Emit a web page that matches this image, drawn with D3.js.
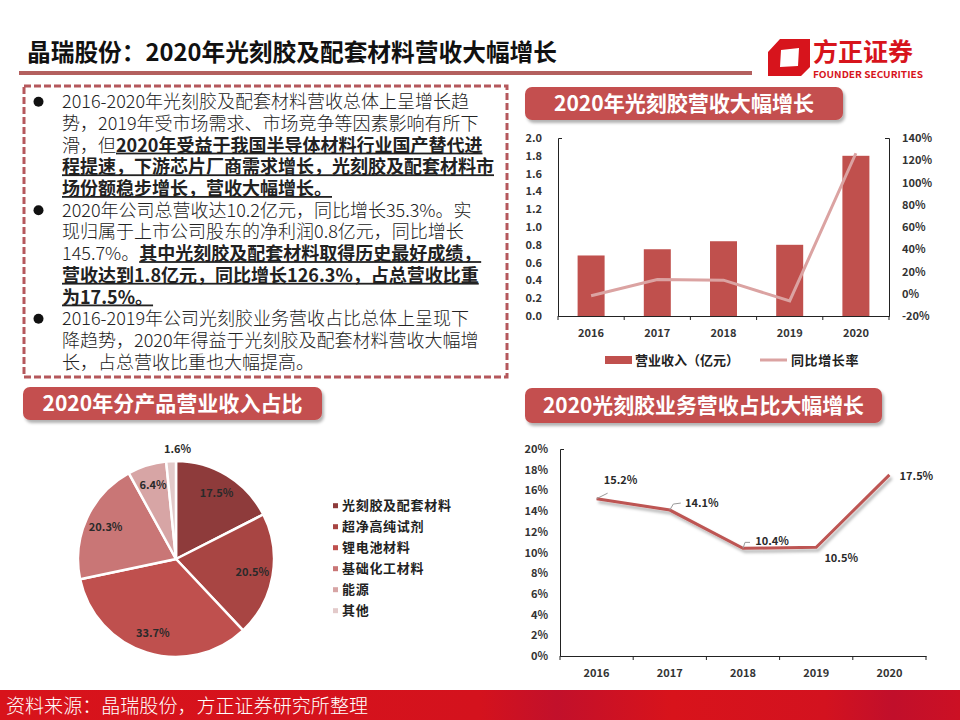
<!DOCTYPE html>
<meta charset="utf-8">
<script src="https://d3js.org/d3.v7.min.js"></script>
<style>
  body { margin: 0; background: #fff; }
  text { font-family: "Noto Sans CJK SC", "Microsoft YaHei", sans-serif; }
</style>
<div id="slide"></div>
<script>

// ---- data ----
const years = ["2016", "2017", "2018", "2019", "2020"];
const revenue = [0.68, 0.75, 0.84, 0.80, 1.80];          // 营业收入（亿元）
const revenueGrowth = [-1.8, 12.8, 12.2, -6.5, 126.3];   // 同比增长率 %
const revenueTicks = [0, 0.2, 0.4, 0.6, 0.8, 1.0, 1.2, 1.4, 1.6, 1.8, 2.0];
const growthTicks = [-20, 0, 20, 40, 60, 80, 100, 120, 140];

const productNames = ["光刻胶及配套材料", "超净高纯试剂", "锂电池材料", "基础化工材料", "能源", "其他"];
const productShares = [17.5, 20.5, 33.7, 20.3, 6.4, 1.6];

const photoresistShare = [15.2, 14.1, 10.4, 10.5, 17.5];  // % of total revenue
const shareTicks = [0, 2, 4, 6, 8, 10, 12, 14, 16, 18, 20];

// bullet text, one entry per printed line: [text, bold]
const bulletLines = [
  {bullet: true,  parts: [["2016-2020年光刻胶及配套材料营收总体上呈增长趋", false]]},
  {bullet: false, parts: [["势，2019年受市场需求、市场竞争等因素影响有所下", false]]},
  {bullet: false, parts: [["滑，但", false], ["2020年受益于我国半导体材料行业国产替代进", true]]},
  {bullet: false, parts: [["程提速，下游芯片厂商需求增长，光刻胶及配套材料市", true]]},
  {bullet: false, parts: [["场份额稳步增长，营收大幅增长。", true]]},
  {bullet: true,  parts: [["2020年公司总营收达10.2亿元，同比增长35.3%。实", false]]},
  {bullet: false, parts: [["现归属于上市公司股东的净利润0.8亿元，同比增长", false]]},
  {bullet: false, parts: [["145.7%。", false], ["其中光刻胶及配套材料取得历史最好成绩，", true]]},
  {bullet: false, parts: [["营收达到1.8亿元，同比增长126.3%，占总营收比重", true]]},
  {bullet: false, parts: [["为17.5%。", true]]},
  {bullet: true,  parts: [["2016-2019年公司光刻胶业务营收占比总体上呈现下", false]]},
  {bullet: false, parts: [["降趋势，2020年得益于光刻胶及配套材料营收大幅增", false]]},
  {bullet: false, parts: [["长，占总营收比重也大幅提高。", false]]}
];

// colours
const barColor = "#c0504d";
const growthColor = "#dba3a2";
const pieColors = ["#8e3b3b", "#a84543", "#bf504e", "#c97676", "#d7a5a5", "#e3caca"];
const boxRed = "#c4504f";
const axisText = "#333";

const svg = d3.select("#slide")
  .append("svg")
    .attr("width", 960)
    .attr("height", 720);

const defs = svg.append("defs");
defs.append("filter")
    .attr("id", "shadow")
    .attr("x", "-10%").attr("y", "-20%").attr("width", "130%").attr("height", "160%")
  .append("feDropShadow")
    .attr("dx", 2).attr("dy", 3).attr("stdDeviation", 1.5)
    .attr("flood-color", "#000").attr("flood-opacity", 0.3);

const footGrad = defs.append("linearGradient").attr("id", "footGrad");
[[0, "#d8131b"], [0.5, "#d4121d"], [0.58, "#c2102b"], [0.7, "#d8131b"], [0.86, "#d3121f"], [0.93, "#c10f2b"], [1, "#cc1024"]]
  .forEach(s => footGrad.append("stop").attr("offset", s[0]).attr("stop-color", s[1]));

// ---- header ----
svg.append("text")
    .attr("x", 27).attr("y", 61)
    .attr("textLength", 530).attr("lengthAdjust", "spacingAndGlyphs")
    .style("font-size", "24px").style("font-weight", "bold").style("fill", "#111")
    .text("晶瑞股份：2020年光刻胶及配套材料营收大幅增长");

svg.append("rect")
    .attr("x", 19).attr("y", 71).attr("width", 733).attr("height", 4)
    .attr("fill", "#b4605f");

// logo: a bevelled red frame
svg.append("path")
    .attr("d", "M768,52 L780,39 L810,39 L810,67 L801,76 L768,76 Z M781,50 L799,48 L798,66 L780,67 Z")
    .attr("fill-rule", "evenodd")
    .attr("fill", "#d7141c");
svg.append("text")
    .attr("x", 813).attr("y", 61)
    .attr("textLength", 100).attr("lengthAdjust", "spacingAndGlyphs")
    .style("font-size", "25px").style("font-weight", "bold").style("fill", "#d7141c")
    .text("方正证券");
svg.append("text")
    .attr("x", 813).attr("y", 78)
    .attr("textLength", 110).attr("lengthAdjust", "spacingAndGlyphs")
    .style("font-size", "9.5px").style("font-weight", "bold").style("fill", "#d7141c")
    .text("FOUNDER SECURITIES");

// ---- text box ----
svg.append("rect")
    .attr("x", 24).attr("y", 86).attr("width", 483).attr("height", 291)
    .attr("fill", "none")
    .attr("stroke", "#b5585c")
    .attr("stroke-width", 3)
    .attr("stroke-dasharray", "7,3");

const lineTop = 101.7, lineStep = 21.7;
bulletLines.forEach(function(line, i) {
  const cy = lineTop + i * lineStep;
  if (line.bullet) {
    svg.append("circle").attr("cx", 38.5).attr("cy", cy).attr("r", 5).attr("fill", "#111");
  }
  const t = svg.append("text")
      .attr("x", 62).attr("y", cy + 6.5)
      .style("font-size", "18px").style("fill", "#222");
  line.parts.forEach(function(p) {
    t.append("tspan")
      .style("font-weight", p[1] ? "bold" : "300")
      .style("text-decoration", p[1] ? "underline" : "none")
      .text(p[0]);
  });
});

// ---- section title boxes ----
function titleBox(x, y, w, h, label, textLen) {
  svg.append("rect")
      .attr("x", x).attr("y", y).attr("width", w).attr("height", h)
      .attr("rx", 7)
      .attr("fill", boxRed)
      .attr("filter", "url(#shadow)");
  svg.append("text")
      .attr("x", x + w / 2).attr("y", y + h / 2 + 7.5)
      .attr("text-anchor", "middle")
      .attr("textLength", textLen).attr("lengthAdjust", "spacingAndGlyphs")
      .style("font-size", "21px").style("font-weight", "bold").style("fill", "#fff")
      .text(label);
}
titleBox(525, 87, 318, 33, "2020年光刻胶营收大幅增长", 260);
titleBox(23, 387, 299, 33, "2020年分产品营业收入占比", 260);
titleBox(525, 388, 357, 35, "2020光刻胶业务营收占比大幅增长", 321);

// ---- bar + line chart (top right) ----
const bx = d3.scaleBand().domain(years).range([558, 889]);
const by = d3.scaleLinear().domain([0, 2]).range([316, 138]);
const byR = d3.scaleLinear().domain([-20, 140]).range([316, 138]);
const barW = 27;

svg.append("g")
  .selectAll("rect")
  .data(years)
  .join("rect")
    .attr("x", (d) => bx(d) + bx.bandwidth() / 2 - barW / 2)
    .attr("y", (d, i) => by(revenue[i]))
    .attr("width", barW)
    .attr("height", (d, i) => by(0) - by(revenue[i]))
    .attr("fill", barColor);

svg.append("path")
    .datum(revenueGrowth)
    .attr("d", d3.line()
      .x((d, i) => bx(years[i]) + bx.bandwidth() / 2)
      .y((d) => byR(d)))
    .attr("fill", "none")
    .attr("stroke", growthColor)
    .attr("stroke-width", 3);

function styleAxis(g, size) {
  g.selectAll("path, line").attr("stroke", "#222");
  g.selectAll("text")
    .style("font-size", size || "11px")
    .style("font-weight", "bold")
    .style("fill", axisText)
    .style("font-family", "'Noto Sans CJK SC', sans-serif");
}

svg.append("g")
    .attr("transform", "translate(558,0)")
    .call(d3.axisLeft(by).tickValues(revenueTicks).tickFormat(d3.format(".1f"))
      .tickSizeInner(0).tickSizeOuter(-4).tickPadding(16))
    .call(styleAxis);

svg.append("g")
    .attr("transform", "translate(889,0)")
    .call(d3.axisRight(byR).tickValues(growthTicks).tickFormat((d) => d + "%")
      .tickSizeInner(0).tickSizeOuter(-4).tickPadding(13))
    .call(styleAxis);

function bandAxis(scale, y) {
  const g = svg.append("g")
      .attr("transform", `translate(0,${y})`)
      .call(d3.axisBottom(scale).tickSize(0).tickPadding(13))
      .call(styleAxis);
  // ticks sit on the band boundaries
  g.selectAll("line.edge")
    .data(scale.domain().map((d) => scale(d)).concat([scale.range()[1]]))
    .join("line")
      .attr("class", "edge")
      .attr("x1", (d) => d).attr("x2", (d) => d)
      .attr("y1", 0).attr("y2", 4)
      .attr("stroke", "#222");
}
bandAxis(bx, 316);

// legend
svg.append("rect")
    .attr("x", 605).attr("y", 356).attr("width", 27).attr("height", 8)
    .attr("fill", barColor);
svg.append("text")
    .attr("x", 635).attr("y", 365)
    .style("font-size", "13px").style("font-weight", "bold").style("fill", "#222")
    .text("营业收入（亿元）");
svg.append("line")
    .attr("x1", 760).attr("x2", 787).attr("y1", 360).attr("y2", 360)
    .attr("stroke", growthColor).attr("stroke-width", 3);
svg.append("text")
    .attr("x", 791).attr("y", 365)
    .style("font-size", "13px").style("font-weight", "bold").style("fill", "#222")
    .style("letter-spacing", "0.6px")
    .text("同比增长率");

// ---- pie (bottom left) ----
const pieCx = 176, pieCy = 559, pieR = 98;
const pie = d3.pie().sort(null).value((d) => d);
const arcs = pie(productShares);
const arc = d3.arc().innerRadius(0).outerRadius(pieR);
const labelArc = d3.arc().innerRadius(pieR * 0.79).outerRadius(pieR * 0.79);
const outerLabelArc = d3.arc().innerRadius(pieR + 12).outerRadius(pieR + 12);

const pieG = svg.append("g").attr("transform", `translate(${pieCx},${pieCy})`);
pieG.selectAll("path")
  .data(arcs)
  .join("path")
    .attr("d", arc)
    .attr("fill", (d, i) => pieColors[i])
    .attr("stroke", "#fff")
    .attr("stroke-width", 2.5);

pieG.selectAll("text")
  .data(arcs)
  .join("text")
    .attr("transform", (d) => `translate(${(d.data < 2 ? outerLabelArc : labelArc).centroid(d)})`)
    .attr("dx", (d) => d.data < 2 ? 7 : 0)
    .attr("dy", "0.35em")
    .attr("text-anchor", "middle")
    .style("font-size", "11px").style("font-weight", "bold").style("fill", "#2a2a2a")
    .text((d) => d.data.toFixed(1) + "%");

const pieLegend = svg.append("g")
  .selectAll("g")
  .data(productNames)
  .join("g")
    .attr("transform", (d, i) => `translate(333,${505.7 + i * 21})`);
pieLegend.append("rect")
    .attr("x", 0).attr("y", -2.5).attr("width", 5).attr("height", 5)
    .attr("fill", (d, i) => pieColors[i]);
pieLegend.append("text")
    .attr("x", 9).attr("y", 4.5)
    .style("font-size", "13px").style("font-weight", "bold").style("fill", "#222")
    .style("letter-spacing", "0.7px")
    .text((d) => d);

// ---- share line chart (bottom right) ----
const lx = d3.scaleBand().domain(years).range([560, 926]);
const ly = d3.scaleLinear().domain([0, 20]).range([656, 449]);
const lxc = (i) => lx(years[i]) + lx.bandwidth() / 2;

svg.append("g")
    .attr("transform", "translate(560,0)")
    .call(d3.axisLeft(ly).tickValues(shareTicks).tickFormat((d) => d + "%")
      .tickSizeInner(0).tickSizeOuter(-4).tickPadding(12))
    .call(styleAxis);
bandAxis(lx, 656);

svg.append("path")
    .datum(photoresistShare)
    .attr("d", d3.line().x((d, i) => lxc(i)).y((d) => ly(d)))
    .attr("fill", "none")
    .attr("stroke", "#bd5553")
    .attr("stroke-width", 3)
    .attr("filter", "url(#shadow)");

// data labels: offset of label centre from the point, plus leader bend
const shareLabelOffset = [[24, -19], [32, -7], [29, -7], [25, 11], [27, 1]];
const leaderPath = [
  [[0, 0], [11, -5.5]],
  [[0, 0], [3.5, -6], [11, -7]],
  [[0, 0], [2, -6], [7, -6]],
  null,
  null
];
photoresistShare.forEach(function(v, i) {
  const px = lxc(i), py = ly(v);
  if (leaderPath[i]) {
    svg.append("path")
        .attr("d", d3.line()(leaderPath[i].map((p) => [px + p[0], py + p[1]])))
        .attr("fill", "none")
        .attr("stroke", "#999")
        .attr("stroke-width", 1);
  }
  svg.append("text")
      .attr("x", px + shareLabelOffset[i][0])
      .attr("y", py + shareLabelOffset[i][1])
      .attr("dy", "0.35em")
      .attr("text-anchor", "middle")
      .style("font-size", "11px").style("font-weight", "bold").style("fill", "#2a2a2a")
      .text(v.toFixed(1) + "%");
});

// ---- footer ----
svg.append("rect")
    .attr("x", 0).attr("y", 690).attr("width", 960).attr("height", 30)
    .attr("fill", "url(#footGrad)");
svg.append("text")
    .attr("x", 6).attr("y", 713)
    .attr("textLength", 362).attr("lengthAdjust", "spacingAndGlyphs")
    .style("font-size", "19px").style("font-weight", "300").style("fill", "#fff")
    .text("资料来源：晶瑞股份，方正证券研究所整理");

</script>
